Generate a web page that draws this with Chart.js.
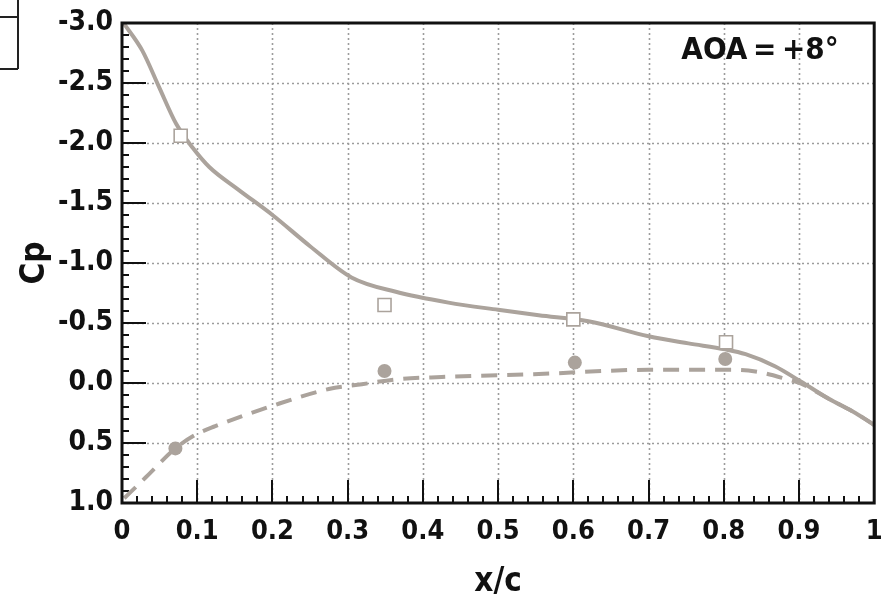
<!DOCTYPE html>
<html><head><meta charset="utf-8">
<script src="https://cdn.jsdelivr.net/npm/chart.js@4.4.0/dist/chart.umd.min.js"></script>
<style>html,body{margin:0;padding:0;background:#fff;}canvas{display:block;}</style>
</head><body>
<canvas id="c" width="885" height="597"></canvas>
<script>
// Upper surface, CFD (solid line)
const upperCfdX  = [0.002, 0.027, 0.049, 0.072, 0.094, 0.116, 0.155, 0.200, 0.250, 0.305, 0.364, 0.434, 0.500, 0.554, 0.620, 0.700, 0.753, 0.802, 0.829, 0.868, 0.903, 0.939, 0.975, 1.000];
const upperCfdCp = [-3.00, -2.77, -2.47, -2.16, -1.96, -1.80, -1.61, -1.40, -1.14, -0.88, -0.76, -0.67, -0.61, -0.565, -0.515, -0.39, -0.33, -0.28, -0.24, -0.14, -0.01, 0.13, 0.25, 0.35];
// Lower surface, CFD (dashed line)
const lowerCfdX  = [0.003, 0.031, 0.071, 0.098, 0.124, 0.200, 0.275, 0.319, 0.364, 0.425, 0.554, 0.700, 0.766, 0.810, 0.842, 0.882, 0.903, 0.939, 0.975, 1.000];
const lowerCfdCp = [0.96, 0.79, 0.545, 0.43, 0.36, 0.19, 0.05, 0.01, -0.03, -0.05, -0.075, -0.11, -0.11, -0.11, -0.096, -0.035, 0.006, 0.13, 0.25, 0.35];
// Experiment, upper surface (open squares)
const upperExpX  = [0.078, 0.349, 0.600, 0.803];
const upperExpCp = [-2.06, -0.65, -0.53, -0.34];
// Experiment, lower surface (filled circles)
const lowerExpX  = [0.071, 0.349, 0.602, 0.802];
const lowerExpCp = [0.545, -0.10, -0.17, -0.20];
// Tick labels
const xTickLabels = ['0','0.1','0.2','0.3','0.4','0.5','0.6','0.7','0.8','0.9','1'];
const yTickLabels = ['-3.0','-2.5','-2.0','-1.5','-1.0','-0.5','0.0','0.5','1.0'];
const xTitle = 'x/c';
const yTitle = 'Cp';
const aoaText = 'AOA\u2009=\u2009+8°';

const FONT = "'DejaVu Sans Condensed','DejaVu Sans',sans-serif";
const LINE = '#aba39c';
const pts = (xs, ys) => xs.map((x, i) => ({x: x, y: ys[i]}));

const decorPlugin = {
  id: 'decor',
  beforeDatasetsDraw(chart) {
    const {ctx, chartArea: a, scales: {x, y}} = chart;
    ctx.save();
    ctx.strokeStyle = '#9c9c9c'; ctx.lineWidth = 1.6; ctx.setLineDash([2, 3]);
    for (let i = 1; i < xTickLabels.length - 1; i++) {
      const px = Math.round(x.getPixelForValue(i / 10)) + 0.5;
      ctx.beginPath(); ctx.moveTo(px, a.top); ctx.lineTo(px, a.bottom); ctx.stroke();
    }
    for (let i = 1; i < yTickLabels.length - 1; i++) {
      const py = Math.round(y.getPixelForValue(-3 + i * 0.5)) + 0.5;
      ctx.beginPath(); ctx.moveTo(a.left, py); ctx.lineTo(a.right, py); ctx.stroke();
    }
    ctx.setLineDash([]);
    ctx.strokeStyle = '#111'; ctx.lineWidth = 2;
    for (let k = 1; k < 50; k++) {
      const px = Math.round(x.getPixelForValue(k / 50));
      const len = (k % 5 === 0) ? 23 : 7;
      ctx.beginPath(); ctx.moveTo(px, a.bottom); ctx.lineTo(px, a.bottom - len); ctx.stroke();
    }
    for (let k = 1; k < 40; k++) {
      const py = Math.round(y.getPixelForValue(-3 + k / 10));
      const len = (k % 5 === 0) ? 24 : 7;
      ctx.beginPath(); ctx.moveTo(a.left, py); ctx.lineTo(a.left + len, py); ctx.stroke();
    }
    ctx.restore();
  },
  afterDatasetsDraw(chart) {
    const {ctx, chartArea: a} = chart;
    ctx.save();
    ctx.strokeStyle = '#111'; ctx.lineWidth = 3;
    ctx.strokeRect(a.left, a.top, a.right - a.left, a.bottom - a.top);
    // fragment of a box at the top-left corner
    ctx.strokeStyle = '#222'; ctx.lineWidth = 2;
    ctx.beginPath();
    ctx.moveTo(0, 17); ctx.lineTo(18, 17);
    ctx.moveTo(18, 0); ctx.lineTo(18, 69);
    ctx.moveTo(0, 69); ctx.lineTo(18, 69);
    ctx.stroke();
    ctx.fillStyle = '#111';
    ctx.font = 'bold 31px ' + FONT;
    ctx.textAlign = 'center'; ctx.textBaseline = 'middle';
    ctx.fillText(aoaText, 760, 51);
    ctx.restore();
  }
};

new Chart(document.getElementById('c'), {
  type: 'line',
  data: {
    datasets: [
      {data: pts(upperExpX, upperExpCp), showLine: false, pointStyle: 'rect', pointRadius: 9.2,
       pointBackgroundColor: '#ffffff', pointBorderColor: LINE, pointBorderWidth: 1.6},
      {data: pts(lowerExpX, lowerExpCp), showLine: false, pointStyle: 'circle', pointRadius: 7,
       pointBackgroundColor: LINE, pointBorderColor: LINE, pointBorderWidth: 0},
      {data: pts(upperCfdX, upperCfdCp), borderColor: LINE, borderWidth: 4, pointRadius: 0,
       cubicInterpolationMode: 'monotone', fill: false},
      {data: pts(lowerCfdX, lowerCfdCp), borderColor: LINE, borderWidth: 4, pointRadius: 0,
       borderDash: [16, 10], cubicInterpolationMode: 'monotone', fill: false}
    ]
  },
  options: {
    responsive: false, animation: false, devicePixelRatio: 1,
    layout: {padding: {top: 23, right: 7, left: 0, bottom: 0}},
    plugins: {legend: {display: false}, tooltip: {enabled: false}},
    scales: {
      x: {
        type: 'linear', min: 0, max: 1,
        grid: {display: false}, border: {display: false},
        ticks: {stepSize: 0.1, padding: 5, color: '#111', autoSkip: false, maxRotation: 0,
                font: {family: FONT, size: 27, weight: 'bold'},
                callback: v => xTickLabels[Math.round(v * 10)]},
        title: {display: true, text: xTitle, color: '#111', padding: {top: 0, bottom: -5},
                font: {family: FONT, size: 33, weight: 'bold'}},
        afterFit(s) { s.height = 94; s.paddingLeft = 0; s.paddingRight = 0; }
      },
      y: {
        type: 'linear', min: -3, max: 1, reverse: true,
        grid: {display: false}, border: {display: false},
        ticks: {stepSize: 0.5, padding: 1, color: '#111', autoSkip: false,
                font: {family: FONT, size: 28, weight: 'bold'},
                callback: v => yTickLabels[Math.round((v + 3) * 2)]},
        title: {display: true, text: yTitle, color: '#111', padding: {top: 16, bottom: 0},
                font: {family: FONT, size: 33, weight: 'bold'}},
        afterFit(s) { s.width = 122; s.paddingTop = 0; s.paddingBottom = 0; }
      }
    }
  },
  plugins: [decorPlugin]
});
</script>
</body></html>
